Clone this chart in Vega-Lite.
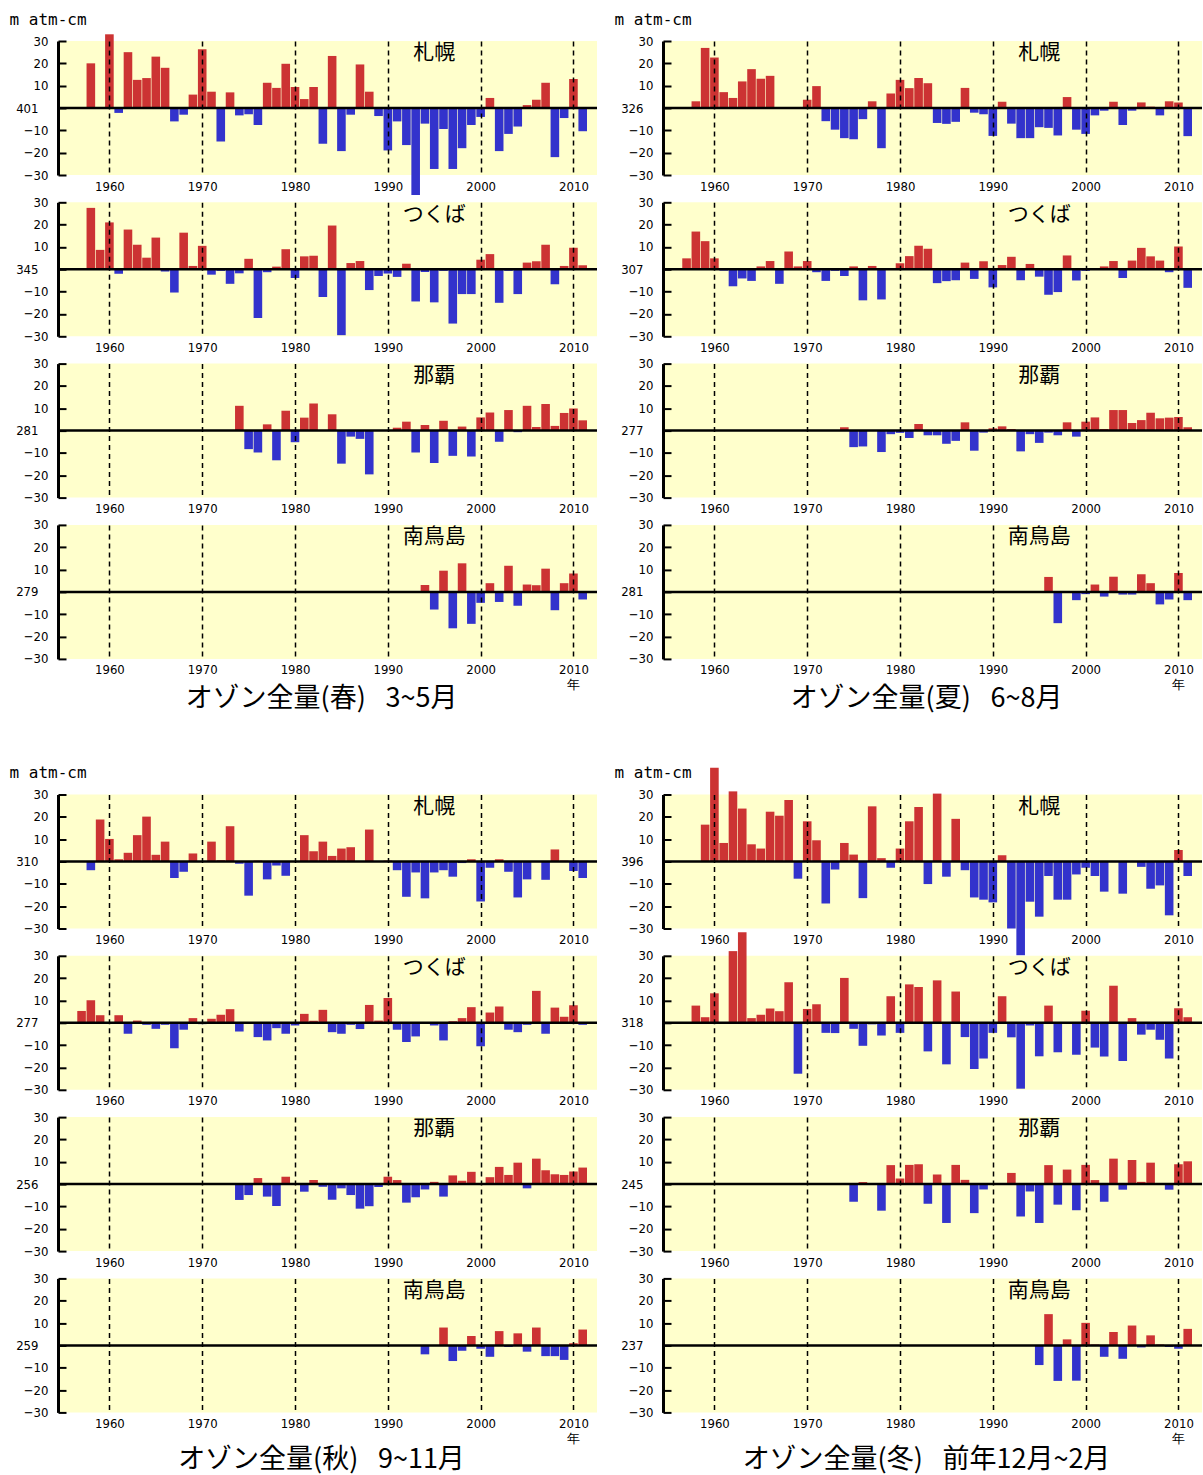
{
"$schema": "https://vega.github.io/schema/vega-lite/v6.json",
"background": "#ffffff",
"padding": {"left": 9, "top": 11, "right": 0, "bottom": 14},
"bounds": "flush",
"columns": 2,
"spacing": {"row": 27.3, "column": 66},
"datasets": {
"a1": [{"year":1958,"anom":20},{"year":1960,"anom":33},{"year":1961,"anom":-2.2},{"year":1962,"anom":25},{"year":1963,"anom":12.6},{"year":1964,"anom":13.4},{"year":1965,"anom":23},{"year":1966,"anom":18},{"year":1967,"anom":-6},{"year":1968,"anom":-3},{"year":1969,"anom":6},{"year":1970,"anom":26.3},{"year":1971,"anom":7.3},{"year":1972,"anom":-15},{"year":1973,"anom":7},{"year":1974,"anom":-3.3},{"year":1975,"anom":-2.8},{"year":1976,"anom":-7.6},{"year":1977,"anom":11.3},{"year":1978,"anom":9},{"year":1979,"anom":19.8},{"year":1980,"anom":9.4},{"year":1981,"anom":4},{"year":1982,"anom":9.4},{"year":1983,"anom":-16},{"year":1984,"anom":23.3},{"year":1985,"anom":-19.3},{"year":1986,"anom":-3},{"year":1987,"anom":19.5},{"year":1988,"anom":7.3},{"year":1989,"anom":-3.6},{"year":1990,"anom":-19},{"year":1991,"anom":-6},{"year":1992,"anom":-16.6},{"year":1993,"anom":-39},{"year":1994,"anom":-7},{"year":1995,"anom":-27.3},{"year":1996,"anom":-9.4},{"year":1997,"anom":-27.3},{"year":1998,"anom":-18},{"year":1999,"anom":-7.6},{"year":2000,"anom":-4},{"year":2001,"anom":4.5},{"year":2002,"anom":-19.3},{"year":2003,"anom":-11.6},{"year":2004,"anom":-8.3},{"year":2005,"anom":1.3},{"year":2006,"anom":3.7},{"year":2007,"anom":11.3},{"year":2008,"anom":-22},{"year":2009,"anom":-4.5},{"year":2010,"anom":13},{"year":2011,"anom":-10.4}],
"a2": [{"year":1958,"anom":27.5},{"year":1959,"anom":8.7},{"year":1960,"anom":21},{"year":1961,"anom":-2},{"year":1962,"anom":17.8},{"year":1963,"anom":11},{"year":1964,"anom":5.2},{"year":1965,"anom":14.2},{"year":1966,"anom":-1},{"year":1967,"anom":-10.4},{"year":1968,"anom":16.4},{"year":1969,"anom":1.5},{"year":1970,"anom":10.5},{"year":1971,"anom":-2.4},{"year":1972,"anom":-0.7},{"year":1973,"anom":-6.5},{"year":1974,"anom":-1.8},{"year":1975,"anom":4.7},{"year":1976,"anom":-21.8},{"year":1977,"anom":-1.3},{"year":1978,"anom":1.2},{"year":1979,"anom":9},{"year":1980,"anom":-3.9},{"year":1981,"anom":5.8},{"year":1982,"anom":6.1},{"year":1983,"anom":-12.4},{"year":1984,"anom":19.6},{"year":1985,"anom":-29.5},{"year":1986,"anom":2.8},{"year":1987,"anom":3.7},{"year":1988,"anom":-9.3},{"year":1989,"anom":-3},{"year":1990,"anom":-1.9},{"year":1991,"anom":-3.4},{"year":1992,"anom":2.5},{"year":1993,"anom":-14.4},{"year":1994,"anom":-1.2},{"year":1995,"anom":-14.8},{"year":1996,"anom":-0.7},{"year":1997,"anom":-24.3},{"year":1998,"anom":-11.1},{"year":1999,"anom":-11.1},{"year":2000,"anom":4.3},{"year":2001,"anom":6.8},{"year":2002,"anom":-15},{"year":2003,"anom":-0.7},{"year":2004,"anom":-11.1},{"year":2005,"anom":3},{"year":2006,"anom":3.6},{"year":2007,"anom":11},{"year":2008,"anom":-6.7},{"year":2009,"anom":1.5},{"year":2010,"anom":9.6},{"year":2011,"anom":1.8}],
"a3": [{"year":1974,"anom":11.1},{"year":1975,"anom":-8.3},{"year":1976,"anom":-9.8},{"year":1977,"anom":2.8},{"year":1978,"anom":-13.3},{"year":1979,"anom":8.9},{"year":1980,"anom":-5.2},{"year":1981,"anom":5.8},{"year":1982,"anom":12.1},{"year":1984,"anom":7.3},{"year":1985,"anom":-14.8},{"year":1986,"anom":-2.7},{"year":1987,"anom":-3.7},{"year":1988,"anom":-19.6},{"year":1991,"anom":1.3},{"year":1992,"anom":4},{"year":1993,"anom":-9.8},{"year":1994,"anom":2.5},{"year":1995,"anom":-14.5},{"year":1996,"anom":4.4},{"year":1997,"anom":-11.3},{"year":1998,"anom":1.8},{"year":1999,"anom":-11.6},{"year":2000,"anom":5.9},{"year":2001,"anom":8.1},{"year":2002,"anom":-5},{"year":2003,"anom":9.2},{"year":2004,"anom":-0.7},{"year":2005,"anom":11.1},{"year":2006,"anom":1.6},{"year":2007,"anom":11.9},{"year":2008,"anom":2.1},{"year":2009,"anom":7.9},{"year":2010,"anom":9.9},{"year":2011,"anom":4.6}],
"a4": [{"year":1994,"anom":3.1},{"year":1995,"anom":-7.9},{"year":1996,"anom":9.5},{"year":1997,"anom":-16.3},{"year":1998,"anom":12.8},{"year":1999,"anom":-14.3},{"year":2000,"anom":-4.9},{"year":2001,"anom":3.9},{"year":2002,"anom":-4.5},{"year":2003,"anom":11.7},{"year":2004,"anom":-6.2},{"year":2005,"anom":3.3},{"year":2006,"anom":3},{"year":2007,"anom":10.4},{"year":2008,"anom":-8.2},{"year":2009,"anom":3.9},{"year":2010,"anom":8.2},{"year":2011,"anom":-3.4}],
"b1": [{"year":1958,"anom":3},{"year":1959,"anom":26.9},{"year":1960,"anom":22.6},{"year":1961,"anom":7.1},{"year":1962,"anom":4.5},{"year":1963,"anom":11.9},{"year":1964,"anom":17.4},{"year":1965,"anom":13.1},{"year":1966,"anom":14.4},{"year":1969,"anom":0.4},{"year":1970,"anom":3.7},{"year":1971,"anom":9.8},{"year":1972,"anom":-5.9},{"year":1973,"anom":-9.7},{"year":1974,"anom":-13.5},{"year":1975,"anom":-14},{"year":1976,"anom":-5},{"year":1977,"anom":3},{"year":1978,"anom":-18},{"year":1979,"anom":6.5},{"year":1980,"anom":12.6},{"year":1981,"anom":8.9},{"year":1982,"anom":13.4},{"year":1983,"anom":11.1},{"year":1984,"anom":-6.7},{"year":1985,"anom":-7.1},{"year":1986,"anom":-6.2},{"year":1987,"anom":9},{"year":1988,"anom":-2.1},{"year":1989,"anom":-2.8},{"year":1990,"anom":-12.5},{"year":1991,"anom":2.8},{"year":1992,"anom":-7},{"year":1993,"anom":-13.5},{"year":1994,"anom":-13.5},{"year":1995,"anom":-8.6},{"year":1996,"anom":-8.9},{"year":1997,"anom":-12.3},{"year":1998,"anom":4.9},{"year":1999,"anom":-9.7},{"year":2000,"anom":-11.6},{"year":2001,"anom":-3.3},{"year":2002,"anom":-1.2},{"year":2003,"anom":2.8},{"year":2004,"anom":-7.6},{"year":2005,"anom":-1.2},{"year":2006,"anom":2.5},{"year":2007,"anom":0.6},{"year":2008,"anom":-3.3},{"year":2009,"anom":3},{"year":2010,"anom":2.5},{"year":2011,"anom":-12.6}],
"b2": [{"year":1957,"anom":4.9},{"year":1958,"anom":16.9},{"year":1959,"anom":12.6},{"year":1960,"anom":4.9},{"year":1961,"anom":-0.6},{"year":1962,"anom":-7.6},{"year":1963,"anom":-4.1},{"year":1964,"anom":-5.2},{"year":1965,"anom":1.3},{"year":1966,"anom":3.7},{"year":1967,"anom":-6.5},{"year":1968,"anom":8},{"year":1969,"anom":1.3},{"year":1970,"anom":3.7},{"year":1971,"anom":-1.3},{"year":1972,"anom":-5.2},{"year":1973,"anom":-0.7},{"year":1974,"anom":-3},{"year":1975,"anom":1.3},{"year":1976,"anom":-13.9},{"year":1977,"anom":1.5},{"year":1978,"anom":-13.5},{"year":1980,"anom":2.7},{"year":1981,"anom":5.9},{"year":1982,"anom":10.5},{"year":1983,"anom":9.2},{"year":1984,"anom":-6.2},{"year":1985,"anom":-5.3},{"year":1986,"anom":-4.9},{"year":1987,"anom":3},{"year":1988,"anom":-4.3},{"year":1989,"anom":3.6},{"year":1990,"anom":-8.1},{"year":1991,"anom":1.9},{"year":1992,"anom":5.6},{"year":1993,"anom":-4.9},{"year":1994,"anom":2.4},{"year":1995,"anom":-3.3},{"year":1996,"anom":-11.4},{"year":1997,"anom":-10.2},{"year":1998,"anom":6.2},{"year":1999,"anom":-5},{"year":2000,"anom":-0.7},{"year":2001,"anom":0.4},{"year":2002,"anom":1.3},{"year":2003,"anom":3.7},{"year":2004,"anom":-3.9},{"year":2005,"anom":3.9},{"year":2006,"anom":9.6},{"year":2007,"anom":5.8},{"year":2008,"anom":3.9},{"year":2009,"anom":-1.3},{"year":2010,"anom":10.2},{"year":2011,"anom":-8.3}],
"b3": [{"year":1974,"anom":1.5},{"year":1975,"anom":-7.4},{"year":1976,"anom":-7.1},{"year":1978,"anom":-9.6},{"year":1979,"anom":-1.6},{"year":1980,"anom":-1},{"year":1981,"anom":-3.3},{"year":1982,"anom":3},{"year":1983,"anom":-2.1},{"year":1984,"anom":-2.1},{"year":1985,"anom":-5.9},{"year":1986,"anom":-4.6},{"year":1987,"anom":3.7},{"year":1988,"anom":-9},{"year":1989,"anom":-0.9},{"year":1990,"anom":1},{"year":1991,"anom":1.9},{"year":1992,"anom":0.7},{"year":1993,"anom":-9.3},{"year":1994,"anom":-1.6},{"year":1995,"anom":-5.5},{"year":1996,"anom":-0.9},{"year":1997,"anom":-2.1},{"year":1998,"anom":3.7},{"year":1999,"anom":-2.7},{"year":2000,"anom":4},{"year":2001,"anom":5.9},{"year":2002,"anom":0.7},{"year":2003,"anom":9.2},{"year":2004,"anom":9.2},{"year":2005,"anom":3.4},{"year":2006,"anom":4.7},{"year":2007,"anom":8},{"year":2008,"anom":5.5},{"year":2009,"anom":5.8},{"year":2010,"anom":6.1},{"year":2011,"anom":1.5}],
"b4": [{"year":1996,"anom":6.7},{"year":1997,"anom":-14},{"year":1999,"anom":-3.7},{"year":2000,"anom":-1},{"year":2001,"anom":3.3},{"year":2002,"anom":-2.1},{"year":2003,"anom":6.8},{"year":2004,"anom":-1.2},{"year":2005,"anom":-1.2},{"year":2006,"anom":7.9},{"year":2007,"anom":3.9},{"year":2008,"anom":-5.6},{"year":2009,"anom":-3.4},{"year":2010,"anom":8.5},{"year":2011,"anom":-3.7}],
"c1": [{"year":1958,"anom":-3.9},{"year":1959,"anom":18.8},{"year":1960,"anom":10.1},{"year":1961,"anom":1},{"year":1962,"anom":3.9},{"year":1963,"anom":11.8},{"year":1964,"anom":20.1},{"year":1965,"anom":3},{"year":1966,"anom":8.9},{"year":1967,"anom":-7.4},{"year":1968,"anom":-4.6},{"year":1969,"anom":3.6},{"year":1971,"anom":8.9},{"year":1972,"anom":0.6},{"year":1973,"anom":15.8},{"year":1974,"anom":-1},{"year":1975,"anom":-15.3},{"year":1976,"anom":0.4},{"year":1977,"anom":-8},{"year":1978,"anom":-1.8},{"year":1979,"anom":-6.4},{"year":1981,"anom":11.8},{"year":1982,"anom":4.6},{"year":1983,"anom":8.9},{"year":1984,"anom":2.5},{"year":1985,"anom":5.8},{"year":1986,"anom":6.4},{"year":1988,"anom":14.3},{"year":1990,"anom":0.4},{"year":1991,"anom":-3.9},{"year":1992,"anom":-15.8},{"year":1993,"anom":-4.9},{"year":1994,"anom":-16.5},{"year":1995,"anom":-4.9},{"year":1996,"anom":-3.9},{"year":1997,"anom":-6.8},{"year":1998,"anom":-0.7},{"year":1999,"anom":1},{"year":2000,"anom":-17.9},{"year":2001,"anom":-2.8},{"year":2002,"anom":1},{"year":2003,"anom":-4.6},{"year":2004,"anom":-16.1},{"year":2005,"anom":-8},{"year":2007,"anom":-8.2},{"year":2008,"anom":5.4},{"year":2009,"anom":0.4},{"year":2010,"anom":-4.2},{"year":2011,"anom":-7.4}],
"c2": [{"year":1957,"anom":5.3},{"year":1958,"anom":10.1},{"year":1959,"anom":3.4},{"year":1961,"anom":3.4},{"year":1962,"anom":-4.9},{"year":1963,"anom":1},{"year":1964,"anom":-0.9},{"year":1965,"anom":-2.7},{"year":1966,"anom":-0.9},{"year":1967,"anom":-11.4},{"year":1968,"anom":-3.1},{"year":1969,"anom":2.1},{"year":1970,"anom":-0.6},{"year":1971,"anom":1.8},{"year":1972,"anom":3.6},{"year":1973,"anom":6.1},{"year":1974,"anom":-3.9},{"year":1975,"anom":0.3},{"year":1976,"anom":-6.4},{"year":1977,"anom":-7.9},{"year":1978,"anom":-2.4},{"year":1979,"anom":-4.9},{"year":1980,"anom":-1.2},{"year":1981,"anom":4},{"year":1982,"anom":0.9},{"year":1983,"anom":5.8},{"year":1984,"anom":-4.2},{"year":1985,"anom":-4.9},{"year":1986,"anom":-0.9},{"year":1987,"anom":-2.8},{"year":1988,"anom":8},{"year":1989,"anom":1},{"year":1990,"anom":11.1},{"year":1991,"anom":-3.1},{"year":1992,"anom":-8.6},{"year":1993,"anom":-6.1},{"year":1995,"anom":-1.2},{"year":1996,"anom":-7.9},{"year":1997,"anom":0.7},{"year":1998,"anom":2.1},{"year":1999,"anom":7},{"year":2000,"anom":-10.5},{"year":2001,"anom":4.6},{"year":2002,"anom":7.3},{"year":2003,"anom":-3.1},{"year":2004,"anom":-4.2},{"year":2005,"anom":-0.9},{"year":2006,"anom":14.3},{"year":2007,"anom":-4.9},{"year":2008,"anom":6.8},{"year":2009,"anom":2.7},{"year":2010,"anom":7.9},{"year":2011,"anom":-0.9}],
"c3": [{"year":1974,"anom":-7.1},{"year":1975,"anom":-4.9},{"year":1976,"anom":2.7},{"year":1977,"anom":-5.6},{"year":1978,"anom":-9.8},{"year":1979,"anom":3.3},{"year":1981,"anom":-3.4},{"year":1982,"anom":1.8},{"year":1983,"anom":-1.2},{"year":1984,"anom":-7},{"year":1985,"anom":-1.9},{"year":1986,"anom":-4.9},{"year":1987,"anom":-11},{"year":1988,"anom":-9.9},{"year":1989,"anom":-1.3},{"year":1990,"anom":3.3},{"year":1991,"anom":1.8},{"year":1992,"anom":-8.3},{"year":1993,"anom":-5.9},{"year":1994,"anom":-2.4},{"year":1995,"anom":1},{"year":1996,"anom":-5.6},{"year":1997,"anom":3.9},{"year":1998,"anom":1.5},{"year":1999,"anom":5.5},{"year":2001,"anom":3.1},{"year":2002,"anom":7.7},{"year":2003,"anom":4.1},{"year":2004,"anom":9.6},{"year":2005,"anom":-1.9},{"year":2006,"anom":11.4},{"year":2007,"anom":6.2},{"year":2008,"anom":4.4},{"year":2009,"anom":4.1},{"year":2010,"anom":5.6},{"year":2011,"anom":7.4}],
"c4": [{"year":1994,"anom":-4},{"year":1996,"anom":8},{"year":1997,"anom":-7},{"year":1998,"anom":-2.4},{"year":1999,"anom":4.2},{"year":2000,"anom":-1.5},{"year":2001,"anom":-5.1},{"year":2002,"anom":6.4},{"year":2003,"anom":-0.7},{"year":2004,"anom":5.4},{"year":2005,"anom":-2.8},{"year":2006,"anom":8},{"year":2007,"anom":-4.8},{"year":2008,"anom":-4.8},{"year":2009,"anom":-6.5},{"year":2010,"anom":1},{"year":2011,"anom":7.1}],
"d1": [{"year":1959,"anom":16.5},{"year":1960,"anom":42},{"year":1961,"anom":8.3},{"year":1962,"anom":31.4},{"year":1963,"anom":23.7},{"year":1964,"anom":7.7},{"year":1965,"anom":5.8},{"year":1966,"anom":22.3},{"year":1967,"anom":20.5},{"year":1968,"anom":27.5},{"year":1969,"anom":-7.7},{"year":1970,"anom":18},{"year":1971,"anom":9.5},{"year":1972,"anom":-18.8},{"year":1973,"anom":-3.6},{"year":1974,"anom":8.3},{"year":1975,"anom":3.1},{"year":1976,"anom":-16.4},{"year":1977,"anom":24.7},{"year":1978,"anom":1.5},{"year":1979,"anom":-2.8},{"year":1980,"anom":5.8},{"year":1981,"anom":18},{"year":1982,"anom":24.4},{"year":1983,"anom":-10.1},{"year":1984,"anom":30.4},{"year":1985,"anom":-6.8},{"year":1986,"anom":19.1},{"year":1987,"anom":-3.9},{"year":1988,"anom":-16.1},{"year":1989,"anom":-17.1},{"year":1990,"anom":-18.3},{"year":1991,"anom":2.8},{"year":1992,"anom":-30},{"year":1993,"anom":-42},{"year":1994,"anom":-18},{"year":1995,"anom":-24.7},{"year":1996,"anom":-6.5},{"year":1997,"anom":-17.1},{"year":1998,"anom":-17.1},{"year":1999,"anom":-5.8},{"year":2000,"anom":-2.8},{"year":2001,"anom":-6.5},{"year":2002,"anom":-13.5},{"year":2004,"anom":-14.4},{"year":2006,"anom":-2.4},{"year":2007,"anom":-12.2},{"year":2008,"anom":-10.7},{"year":2009,"anom":-24.1},{"year":2010,"anom":5.2},{"year":2011,"anom":-6.5}],
"d2": [{"year":1958,"anom":7.7},{"year":1959,"anom":2.5},{"year":1960,"anom":13.2},{"year":1962,"anom":32.1},{"year":1963,"anom":40.5},{"year":1964,"anom":2.1},{"year":1965,"anom":3.6},{"year":1966,"anom":6.4},{"year":1967,"anom":5.2},{"year":1968,"anom":18.2},{"year":1969,"anom":-22.8},{"year":1970,"anom":6.2},{"year":1971,"anom":8.3},{"year":1972,"anom":-4.5},{"year":1973,"anom":-4.6},{"year":1974,"anom":20.1},{"year":1975,"anom":-2.7},{"year":1976,"anom":-10.3},{"year":1977,"anom":-0.7},{"year":1978,"anom":-5.7},{"year":1979,"anom":11.9},{"year":1980,"anom":-4.5},{"year":1981,"anom":17.2},{"year":1982,"anom":16},{"year":1983,"anom":-12.8},{"year":1984,"anom":19},{"year":1985,"anom":-18.6},{"year":1986,"anom":14},{"year":1987,"anom":-6.4},{"year":1988,"anom":-20.7},{"year":1989,"anom":-16},{"year":1990,"anom":-4.5},{"year":1991,"anom":11.9},{"year":1992,"anom":-6.5},{"year":1993,"anom":-29.5},{"year":1994,"anom":-1.2},{"year":1995,"anom":-15},{"year":1996,"anom":7.7},{"year":1997,"anom":-13.2},{"year":1999,"anom":-14.3},{"year":2000,"anom":5.4},{"year":2001,"anom":-11.1},{"year":2002,"anom":-15.1},{"year":2003,"anom":16.6},{"year":2004,"anom":-17.1},{"year":2005,"anom":2.1},{"year":2006,"anom":-5.3},{"year":2007,"anom":-3.1},{"year":2008,"anom":-7.6},{"year":2009,"anom":-16},{"year":2010,"anom":6.5},{"year":2011,"anom":2.5}],
"d3": [{"year":1975,"anom":-7.9},{"year":1976,"anom":0.9},{"year":1978,"anom":-11.9},{"year":1979,"anom":8.5},{"year":1980,"anom":2.5},{"year":1981,"anom":8.6},{"year":1982,"anom":8.9},{"year":1983,"anom":-8.8},{"year":1984,"anom":4.3},{"year":1985,"anom":-17.4},{"year":1986,"anom":8.6},{"year":1987,"anom":1.9},{"year":1988,"anom":-13},{"year":1989,"anom":-2.4},{"year":1992,"anom":5},{"year":1993,"anom":-14.5},{"year":1994,"anom":-3.3},{"year":1995,"anom":-17.4},{"year":1996,"anom":8.5},{"year":1997,"anom":-9.2},{"year":1998,"anom":6.5},{"year":1999,"anom":-11.7},{"year":2000,"anom":8.6},{"year":2001,"anom":1.8},{"year":2002,"anom":-7.9},{"year":2003,"anom":11.4},{"year":2004,"anom":-2.5},{"year":2005,"anom":10.8},{"year":2006,"anom":1},{"year":2007,"anom":9.6},{"year":2009,"anom":-2.5},{"year":2010,"anom":8.9},{"year":2011,"anom":10.2}],
"d4": [{"year":1995,"anom":-8.8},{"year":1996,"anom":14},{"year":1997,"anom":-15.9},{"year":1998,"anom":2.7},{"year":1999,"anom":-15.8},{"year":2000,"anom":10.1},{"year":2001,"anom":0.4},{"year":2002,"anom":-5.1},{"year":2003,"anom":6},{"year":2004,"anom":-6},{"year":2005,"anom":8.9},{"year":2006,"anom":-0.9},{"year":2007,"anom":4.5},{"year":2008,"anom":0.4},{"year":2009,"anom":-0.7},{"year":2010,"anom":-1.5},{"year":2011,"anom":7.4}]
},
"concat": [
{"width":539,"height":134,"data":{"name":"a1"},"resolve":{"axis":{"x":"independent","y":"independent"}},"layer":[
 {"mark":{"type":"bar","width":8.6},"encoding":{
  "x":{"field":"year","type":"quantitative","scale":{"domain":[1955,2012],"nice":false,"zero":false},"axis":{"values":[1960,1970,1980,1990,2000,2010],"format":"d","title":null,"zindex":1}},
  "y":{"field":"anom","type":"quantitative","scale":{"domain":[-30,30],"nice":false},"axis":{"values":[-30,-20,-10,0,10,20,30],"labelOverlap":false,"labelPadding":{"condition":{"test":"datum.value === 0","value":28},"value":18},"labelExpr":"datum.value === 0 ? '401' : datum.label","title":"m atm-cm"}},
  "color":{"condition":{"test":"datum.anom >= 0","value":"#cc3333"},"value":"#3333cc"}}},
 {"data":{"values":[{}]},"mark":{"type":"rule","color":"#000000","strokeWidth":2.5},"encoding":{"y":{"datum":0,"axis":null}}},
 {"data":{"values":[{}]},"mark":{"type":"text","font":"Noto Sans CJK JP","fontSize":21,"baseline":"middle","color":"#000000"},"encoding":{"x":{"datum":1995,"axis":null},"y":{"datum":24.5,"axis":null},"text":{"value":"札幌"}}}
]},
{"width":539,"height":134,"data":{"name":"b1"},"resolve":{"axis":{"x":"independent","y":"independent"}},"layer":[
 {"mark":{"type":"bar","width":8.6},"encoding":{
  "x":{"field":"year","type":"quantitative","scale":{"domain":[1955,2012],"nice":false,"zero":false},"axis":{"values":[1960,1970,1980,1990,2000,2010],"format":"d","title":null,"zindex":1}},
  "y":{"field":"anom","type":"quantitative","scale":{"domain":[-30,30],"nice":false},"axis":{"values":[-30,-20,-10,0,10,20,30],"labelOverlap":false,"labelPadding":{"condition":{"test":"datum.value === 0","value":28},"value":18},"labelExpr":"datum.value === 0 ? '326' : datum.label","title":"m atm-cm"}},
  "color":{"condition":{"test":"datum.anom >= 0","value":"#cc3333"},"value":"#3333cc"}}},
 {"data":{"values":[{}]},"mark":{"type":"rule","color":"#000000","strokeWidth":2.5},"encoding":{"y":{"datum":0,"axis":null}}},
 {"data":{"values":[{}]},"mark":{"type":"text","font":"Noto Sans CJK JP","fontSize":21,"baseline":"middle","color":"#000000"},"encoding":{"x":{"datum":1995,"axis":null},"y":{"datum":24.5,"axis":null},"text":{"value":"札幌"}}}
]},
{"width":539,"height":134,"data":{"name":"a2"},"resolve":{"axis":{"x":"independent","y":"independent"}},"layer":[
 {"mark":{"type":"bar","width":8.6},"encoding":{
  "x":{"field":"year","type":"quantitative","scale":{"domain":[1955,2012],"nice":false,"zero":false},"axis":{"values":[1960,1970,1980,1990,2000,2010],"format":"d","title":null,"zindex":1}},
  "y":{"field":"anom","type":"quantitative","scale":{"domain":[-30,30],"nice":false},"axis":{"values":[-30,-20,-10,0,10,20,30],"labelOverlap":false,"labelPadding":{"condition":{"test":"datum.value === 0","value":28},"value":18},"labelExpr":"datum.value === 0 ? '345' : datum.label","title":null}},
  "color":{"condition":{"test":"datum.anom >= 0","value":"#cc3333"},"value":"#3333cc"}}},
 {"data":{"values":[{}]},"mark":{"type":"rule","color":"#000000","strokeWidth":2.5},"encoding":{"y":{"datum":0,"axis":null}}},
 {"data":{"values":[{}]},"mark":{"type":"text","font":"Noto Sans CJK JP","fontSize":21,"baseline":"middle","color":"#000000"},"encoding":{"x":{"datum":1995,"axis":null},"y":{"datum":24.5,"axis":null},"text":{"value":"つくば"}}}
]},
{"width":539,"height":134,"data":{"name":"b2"},"resolve":{"axis":{"x":"independent","y":"independent"}},"layer":[
 {"mark":{"type":"bar","width":8.6},"encoding":{
  "x":{"field":"year","type":"quantitative","scale":{"domain":[1955,2012],"nice":false,"zero":false},"axis":{"values":[1960,1970,1980,1990,2000,2010],"format":"d","title":null,"zindex":1}},
  "y":{"field":"anom","type":"quantitative","scale":{"domain":[-30,30],"nice":false},"axis":{"values":[-30,-20,-10,0,10,20,30],"labelOverlap":false,"labelPadding":{"condition":{"test":"datum.value === 0","value":28},"value":18},"labelExpr":"datum.value === 0 ? '307' : datum.label","title":null}},
  "color":{"condition":{"test":"datum.anom >= 0","value":"#cc3333"},"value":"#3333cc"}}},
 {"data":{"values":[{}]},"mark":{"type":"rule","color":"#000000","strokeWidth":2.5},"encoding":{"y":{"datum":0,"axis":null}}},
 {"data":{"values":[{}]},"mark":{"type":"text","font":"Noto Sans CJK JP","fontSize":21,"baseline":"middle","color":"#000000"},"encoding":{"x":{"datum":1995,"axis":null},"y":{"datum":24.5,"axis":null},"text":{"value":"つくば"}}}
]},
{"width":539,"height":134,"data":{"name":"a3"},"resolve":{"axis":{"x":"independent","y":"independent"}},"layer":[
 {"mark":{"type":"bar","width":8.6},"encoding":{
  "x":{"field":"year","type":"quantitative","scale":{"domain":[1955,2012],"nice":false,"zero":false},"axis":{"values":[1960,1970,1980,1990,2000,2010],"format":"d","title":null,"zindex":1}},
  "y":{"field":"anom","type":"quantitative","scale":{"domain":[-30,30],"nice":false},"axis":{"values":[-30,-20,-10,0,10,20,30],"labelOverlap":false,"labelPadding":{"condition":{"test":"datum.value === 0","value":28},"value":18},"labelExpr":"datum.value === 0 ? '281' : datum.label","title":null}},
  "color":{"condition":{"test":"datum.anom >= 0","value":"#cc3333"},"value":"#3333cc"}}},
 {"data":{"values":[{}]},"mark":{"type":"rule","color":"#000000","strokeWidth":2.5},"encoding":{"y":{"datum":0,"axis":null}}},
 {"data":{"values":[{}]},"mark":{"type":"text","font":"Noto Sans CJK JP","fontSize":21,"baseline":"middle","color":"#000000"},"encoding":{"x":{"datum":1995,"axis":null},"y":{"datum":24.5,"axis":null},"text":{"value":"那覇"}}}
]},
{"width":539,"height":134,"data":{"name":"b3"},"resolve":{"axis":{"x":"independent","y":"independent"}},"layer":[
 {"mark":{"type":"bar","width":8.6},"encoding":{
  "x":{"field":"year","type":"quantitative","scale":{"domain":[1955,2012],"nice":false,"zero":false},"axis":{"values":[1960,1970,1980,1990,2000,2010],"format":"d","title":null,"zindex":1}},
  "y":{"field":"anom","type":"quantitative","scale":{"domain":[-30,30],"nice":false},"axis":{"values":[-30,-20,-10,0,10,20,30],"labelOverlap":false,"labelPadding":{"condition":{"test":"datum.value === 0","value":28},"value":18},"labelExpr":"datum.value === 0 ? '277' : datum.label","title":null}},
  "color":{"condition":{"test":"datum.anom >= 0","value":"#cc3333"},"value":"#3333cc"}}},
 {"data":{"values":[{}]},"mark":{"type":"rule","color":"#000000","strokeWidth":2.5},"encoding":{"y":{"datum":0,"axis":null}}},
 {"data":{"values":[{}]},"mark":{"type":"text","font":"Noto Sans CJK JP","fontSize":21,"baseline":"middle","color":"#000000"},"encoding":{"x":{"datum":1995,"axis":null},"y":{"datum":24.5,"axis":null},"text":{"value":"那覇"}}}
]},
{"width":539,"height":134,"data":{"name":"a4"},"resolve":{"axis":{"x":"independent","y":"independent"}},"layer":[
 {"mark":{"type":"bar","width":8.6},"encoding":{
  "x":{"field":"year","type":"quantitative","scale":{"domain":[1955,2012],"nice":false,"zero":false},"axis":{"values":[1960,1970,1980,1990,2000,2010],"format":"d","labelExpr":"datum.value === 2010 ? ['2010','年'] : datum.label","title":"オゾン全量(春)\u2002\u00a03~5月","titleY":40,"titleX":263,"titleAlign":"center","zindex":1}},
  "y":{"field":"anom","type":"quantitative","scale":{"domain":[-30,30],"nice":false},"axis":{"values":[-30,-20,-10,0,10,20,30],"labelOverlap":false,"labelPadding":{"condition":{"test":"datum.value === 0","value":28},"value":18},"labelExpr":"datum.value === 0 ? '279' : datum.label","title":null}},
  "color":{"condition":{"test":"datum.anom >= 0","value":"#cc3333"},"value":"#3333cc"}}},
 {"data":{"values":[{}]},"mark":{"type":"rule","color":"#000000","strokeWidth":2.5},"encoding":{"y":{"datum":0,"axis":null}}},
 {"data":{"values":[{}]},"mark":{"type":"text","font":"Noto Sans CJK JP","fontSize":21,"baseline":"middle","color":"#000000"},"encoding":{"x":{"datum":1995,"axis":null},"y":{"datum":24.5,"axis":null},"text":{"value":"南鳥島"}}}
]},
{"width":539,"height":134,"data":{"name":"b4"},"resolve":{"axis":{"x":"independent","y":"independent"}},"layer":[
 {"mark":{"type":"bar","width":8.6},"encoding":{
  "x":{"field":"year","type":"quantitative","scale":{"domain":[1955,2012],"nice":false,"zero":false},"axis":{"values":[1960,1970,1980,1990,2000,2010],"format":"d","labelExpr":"datum.value === 2010 ? ['2010','年'] : datum.label","title":"オゾン全量(夏)\u2002\u00a06~8月","titleY":40,"titleX":263,"titleAlign":"center","zindex":1}},
  "y":{"field":"anom","type":"quantitative","scale":{"domain":[-30,30],"nice":false},"axis":{"values":[-30,-20,-10,0,10,20,30],"labelOverlap":false,"labelPadding":{"condition":{"test":"datum.value === 0","value":28},"value":18},"labelExpr":"datum.value === 0 ? '281' : datum.label","title":null}},
  "color":{"condition":{"test":"datum.anom >= 0","value":"#cc3333"},"value":"#3333cc"}}},
 {"data":{"values":[{}]},"mark":{"type":"rule","color":"#000000","strokeWidth":2.5},"encoding":{"y":{"datum":0,"axis":null}}},
 {"data":{"values":[{}]},"mark":{"type":"text","font":"Noto Sans CJK JP","fontSize":21,"baseline":"middle","color":"#000000"},"encoding":{"x":{"datum":1995,"axis":null},"y":{"datum":24.5,"axis":null},"text":{"value":"南鳥島"}}}
]},
{"width":539,"height":80.4,"data":{"values":[{}]},"view":{"fill":null,"stroke":null},"mark":{"type":"text"},"encoding":{"text":{"value":""}}},
{"width":539,"height":80.4,"data":{"values":[{}]},"view":{"fill":null,"stroke":null},"mark":{"type":"text"},"encoding":{"text":{"value":""}}},
{"width":539,"height":134,"data":{"name":"c1"},"resolve":{"axis":{"x":"independent","y":"independent"}},"layer":[
 {"mark":{"type":"bar","width":8.6},"encoding":{
  "x":{"field":"year","type":"quantitative","scale":{"domain":[1955,2012],"nice":false,"zero":false},"axis":{"values":[1960,1970,1980,1990,2000,2010],"format":"d","title":null,"zindex":1}},
  "y":{"field":"anom","type":"quantitative","scale":{"domain":[-30,30],"nice":false},"axis":{"values":[-30,-20,-10,0,10,20,30],"labelOverlap":false,"labelPadding":{"condition":{"test":"datum.value === 0","value":28},"value":18},"labelExpr":"datum.value === 0 ? '310' : datum.label","title":"m atm-cm"}},
  "color":{"condition":{"test":"datum.anom >= 0","value":"#cc3333"},"value":"#3333cc"}}},
 {"data":{"values":[{}]},"mark":{"type":"rule","color":"#000000","strokeWidth":2.5},"encoding":{"y":{"datum":0,"axis":null}}},
 {"data":{"values":[{}]},"mark":{"type":"text","font":"Noto Sans CJK JP","fontSize":21,"baseline":"middle","color":"#000000"},"encoding":{"x":{"datum":1995,"axis":null},"y":{"datum":24.5,"axis":null},"text":{"value":"札幌"}}}
]},
{"width":539,"height":134,"data":{"name":"d1"},"resolve":{"axis":{"x":"independent","y":"independent"}},"layer":[
 {"mark":{"type":"bar","width":8.6},"encoding":{
  "x":{"field":"year","type":"quantitative","scale":{"domain":[1955,2012],"nice":false,"zero":false},"axis":{"values":[1960,1970,1980,1990,2000,2010],"format":"d","title":null,"zindex":1}},
  "y":{"field":"anom","type":"quantitative","scale":{"domain":[-30,30],"nice":false},"axis":{"values":[-30,-20,-10,0,10,20,30],"labelOverlap":false,"labelPadding":{"condition":{"test":"datum.value === 0","value":28},"value":18},"labelExpr":"datum.value === 0 ? '396' : datum.label","title":"m atm-cm"}},
  "color":{"condition":{"test":"datum.anom >= 0","value":"#cc3333"},"value":"#3333cc"}}},
 {"data":{"values":[{}]},"mark":{"type":"rule","color":"#000000","strokeWidth":2.5},"encoding":{"y":{"datum":0,"axis":null}}},
 {"data":{"values":[{}]},"mark":{"type":"text","font":"Noto Sans CJK JP","fontSize":21,"baseline":"middle","color":"#000000"},"encoding":{"x":{"datum":1995,"axis":null},"y":{"datum":24.5,"axis":null},"text":{"value":"札幌"}}}
]},
{"width":539,"height":134,"data":{"name":"c2"},"resolve":{"axis":{"x":"independent","y":"independent"}},"layer":[
 {"mark":{"type":"bar","width":8.6},"encoding":{
  "x":{"field":"year","type":"quantitative","scale":{"domain":[1955,2012],"nice":false,"zero":false},"axis":{"values":[1960,1970,1980,1990,2000,2010],"format":"d","title":null,"zindex":1}},
  "y":{"field":"anom","type":"quantitative","scale":{"domain":[-30,30],"nice":false},"axis":{"values":[-30,-20,-10,0,10,20,30],"labelOverlap":false,"labelPadding":{"condition":{"test":"datum.value === 0","value":28},"value":18},"labelExpr":"datum.value === 0 ? '277' : datum.label","title":null}},
  "color":{"condition":{"test":"datum.anom >= 0","value":"#cc3333"},"value":"#3333cc"}}},
 {"data":{"values":[{}]},"mark":{"type":"rule","color":"#000000","strokeWidth":2.5},"encoding":{"y":{"datum":0,"axis":null}}},
 {"data":{"values":[{}]},"mark":{"type":"text","font":"Noto Sans CJK JP","fontSize":21,"baseline":"middle","color":"#000000"},"encoding":{"x":{"datum":1995,"axis":null},"y":{"datum":24.5,"axis":null},"text":{"value":"つくば"}}}
]},
{"width":539,"height":134,"data":{"name":"d2"},"resolve":{"axis":{"x":"independent","y":"independent"}},"layer":[
 {"mark":{"type":"bar","width":8.6},"encoding":{
  "x":{"field":"year","type":"quantitative","scale":{"domain":[1955,2012],"nice":false,"zero":false},"axis":{"values":[1960,1970,1980,1990,2000,2010],"format":"d","title":null,"zindex":1}},
  "y":{"field":"anom","type":"quantitative","scale":{"domain":[-30,30],"nice":false},"axis":{"values":[-30,-20,-10,0,10,20,30],"labelOverlap":false,"labelPadding":{"condition":{"test":"datum.value === 0","value":28},"value":18},"labelExpr":"datum.value === 0 ? '318' : datum.label","title":null}},
  "color":{"condition":{"test":"datum.anom >= 0","value":"#cc3333"},"value":"#3333cc"}}},
 {"data":{"values":[{}]},"mark":{"type":"rule","color":"#000000","strokeWidth":2.5},"encoding":{"y":{"datum":0,"axis":null}}},
 {"data":{"values":[{}]},"mark":{"type":"text","font":"Noto Sans CJK JP","fontSize":21,"baseline":"middle","color":"#000000"},"encoding":{"x":{"datum":1995,"axis":null},"y":{"datum":24.5,"axis":null},"text":{"value":"つくば"}}}
]},
{"width":539,"height":134,"data":{"name":"c3"},"resolve":{"axis":{"x":"independent","y":"independent"}},"layer":[
 {"mark":{"type":"bar","width":8.6},"encoding":{
  "x":{"field":"year","type":"quantitative","scale":{"domain":[1955,2012],"nice":false,"zero":false},"axis":{"values":[1960,1970,1980,1990,2000,2010],"format":"d","title":null,"zindex":1}},
  "y":{"field":"anom","type":"quantitative","scale":{"domain":[-30,30],"nice":false},"axis":{"values":[-30,-20,-10,0,10,20,30],"labelOverlap":false,"labelPadding":{"condition":{"test":"datum.value === 0","value":28},"value":18},"labelExpr":"datum.value === 0 ? '256' : datum.label","title":null}},
  "color":{"condition":{"test":"datum.anom >= 0","value":"#cc3333"},"value":"#3333cc"}}},
 {"data":{"values":[{}]},"mark":{"type":"rule","color":"#000000","strokeWidth":2.5},"encoding":{"y":{"datum":0,"axis":null}}},
 {"data":{"values":[{}]},"mark":{"type":"text","font":"Noto Sans CJK JP","fontSize":21,"baseline":"middle","color":"#000000"},"encoding":{"x":{"datum":1995,"axis":null},"y":{"datum":24.5,"axis":null},"text":{"value":"那覇"}}}
]},
{"width":539,"height":134,"data":{"name":"d3"},"resolve":{"axis":{"x":"independent","y":"independent"}},"layer":[
 {"mark":{"type":"bar","width":8.6},"encoding":{
  "x":{"field":"year","type":"quantitative","scale":{"domain":[1955,2012],"nice":false,"zero":false},"axis":{"values":[1960,1970,1980,1990,2000,2010],"format":"d","title":null,"zindex":1}},
  "y":{"field":"anom","type":"quantitative","scale":{"domain":[-30,30],"nice":false},"axis":{"values":[-30,-20,-10,0,10,20,30],"labelOverlap":false,"labelPadding":{"condition":{"test":"datum.value === 0","value":28},"value":18},"labelExpr":"datum.value === 0 ? '245' : datum.label","title":null}},
  "color":{"condition":{"test":"datum.anom >= 0","value":"#cc3333"},"value":"#3333cc"}}},
 {"data":{"values":[{}]},"mark":{"type":"rule","color":"#000000","strokeWidth":2.5},"encoding":{"y":{"datum":0,"axis":null}}},
 {"data":{"values":[{}]},"mark":{"type":"text","font":"Noto Sans CJK JP","fontSize":21,"baseline":"middle","color":"#000000"},"encoding":{"x":{"datum":1995,"axis":null},"y":{"datum":24.5,"axis":null},"text":{"value":"那覇"}}}
]},
{"width":539,"height":134,"data":{"name":"c4"},"resolve":{"axis":{"x":"independent","y":"independent"}},"layer":[
 {"mark":{"type":"bar","width":8.6},"encoding":{
  "x":{"field":"year","type":"quantitative","scale":{"domain":[1955,2012],"nice":false,"zero":false},"axis":{"values":[1960,1970,1980,1990,2000,2010],"format":"d","labelExpr":"datum.value === 2010 ? ['2010','年'] : datum.label","title":"オゾン全量(秋)\u2002\u00a09~11月","titleY":47,"titleX":263,"titleAlign":"center","zindex":1}},
  "y":{"field":"anom","type":"quantitative","scale":{"domain":[-30,30],"nice":false},"axis":{"values":[-30,-20,-10,0,10,20,30],"labelOverlap":false,"labelPadding":{"condition":{"test":"datum.value === 0","value":28},"value":18},"labelExpr":"datum.value === 0 ? '259' : datum.label","title":null}},
  "color":{"condition":{"test":"datum.anom >= 0","value":"#cc3333"},"value":"#3333cc"}}},
 {"data":{"values":[{}]},"mark":{"type":"rule","color":"#000000","strokeWidth":2.5},"encoding":{"y":{"datum":0,"axis":null}}},
 {"data":{"values":[{}]},"mark":{"type":"text","font":"Noto Sans CJK JP","fontSize":21,"baseline":"middle","color":"#000000"},"encoding":{"x":{"datum":1995,"axis":null},"y":{"datum":24.5,"axis":null},"text":{"value":"南鳥島"}}}
]},
{"width":539,"height":134,"data":{"name":"d4"},"resolve":{"axis":{"x":"independent","y":"independent"}},"layer":[
 {"mark":{"type":"bar","width":8.6},"encoding":{
  "x":{"field":"year","type":"quantitative","scale":{"domain":[1955,2012],"nice":false,"zero":false},"axis":{"values":[1960,1970,1980,1990,2000,2010],"format":"d","labelExpr":"datum.value === 2010 ? ['2010','年'] : datum.label","title":"オゾン全量(冬)\u2002\u00a0前年12月~2月","titleY":47,"titleX":263,"titleAlign":"center","zindex":1}},
  "y":{"field":"anom","type":"quantitative","scale":{"domain":[-30,30],"nice":false},"axis":{"values":[-30,-20,-10,0,10,20,30],"labelOverlap":false,"labelPadding":{"condition":{"test":"datum.value === 0","value":28},"value":18},"labelExpr":"datum.value === 0 ? '237' : datum.label","title":null}},
  "color":{"condition":{"test":"datum.anom >= 0","value":"#cc3333"},"value":"#3333cc"}}},
 {"data":{"values":[{}]},"mark":{"type":"rule","color":"#000000","strokeWidth":2.5},"encoding":{"y":{"datum":0,"axis":null}}},
 {"data":{"values":[{}]},"mark":{"type":"text","font":"Noto Sans CJK JP","fontSize":21,"baseline":"middle","color":"#000000"},"encoding":{"x":{"datum":1995,"axis":null},"y":{"datum":24.5,"axis":null},"text":{"value":"南鳥島"}}}
]}
],
"config": {
 "view": {"fill": "#ffffcc", "stroke": null},
 "axis": {"labelFont": "Liberation Sans Narrow, DejaVu Sans Condensed, sans-serif", "labelFontSize": 13, "labelColor": "#000000", "labelOverlap": false},
 "axisX": {"grid": true, "gridColor": "#000000", "gridDash": [5, 4], "gridWidth": 1.5, "ticks": false, "domain": false, "labelPadding": 5, "labelLineHeight": 15, "titleFont": "Noto Sans CJK JP", "titleFontSize": 27, "titleFontWeight": "normal", "titleColor": "#000000", "titleBaseline": "middle"},
 "axisY": {"grid": false, "labelOverlap": false, "domainColor": "#000000", "domainWidth": 3, "tickColor": "#000000", "tickWidth": 2, "tickSize": -8, "titleFont": "DejaVu Sans Mono", "titleFontSize": 16, "titleFontWeight": "normal", "titleColor": "#000000", "titleAngle": 0, "titleAlign": "left", "titleBaseline": "alphabetic", "titleX": -49, "titleY": -17}
}
}
